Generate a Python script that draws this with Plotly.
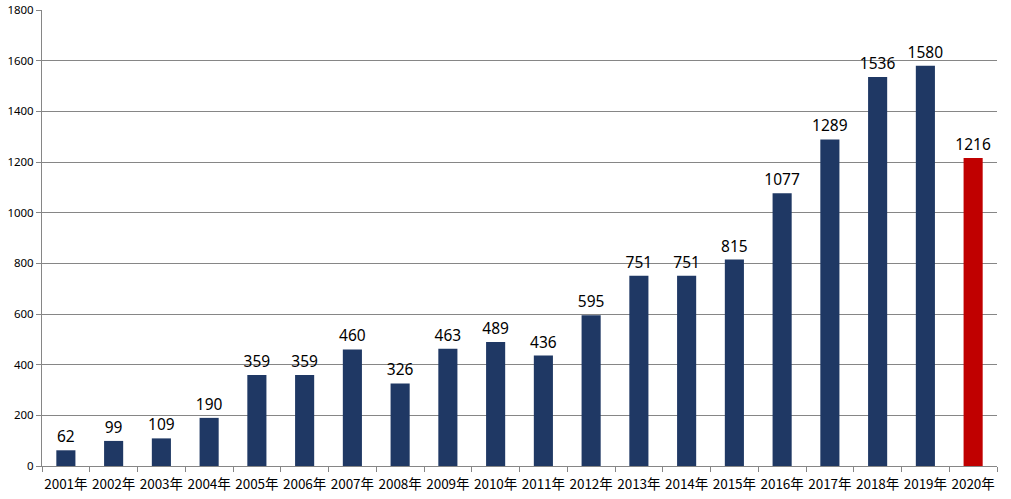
import plotly.graph_objects as go

years = ["2001年", "2002年", "2003年", "2004年", "2005年", "2006年", "2007年", "2008年", "2009年", "2010年",
         "2011年", "2012年", "2013年", "2014年", "2015年", "2016年", "2017年", "2018年", "2019年", "2020年"]
values = [62, 99, 109, 190, 359, 359, 460, 326, 463, 489,
          436, 595, 751, 751, 815, 1077, 1289, 1536, 1580, 1216]
bar_colors = ["#1F3864"] * 19 + ["#C00000"]

fig = go.Figure(go.Bar(
    x=years, y=values, marker_color=bar_colors, marker_line_width=0,
    text=[str(v) for v in values], textposition="outside", cliponaxis=False,
    constraintext="none",
    textfont=dict(size=15.5, color="#000000", family="Noto Sans, sans-serif"),
    outsidetextfont=dict(size=15.5, color="#000000", family="Noto Sans, sans-serif"),
    width=0.4,
))

fig.update_layout(
    width=1011, height=499,
    margin=dict(l=42, r=14, t=10, b=33, autoexpand=False),
    plot_bgcolor="white", paper_bgcolor="white",
    showlegend=False,
    font=dict(family="Noto Sans CJK SC, sans-serif", color="#000000"),
)
fig.update_xaxes(
    type="category", showline=True, linecolor="#868686", linewidth=1,
    ticks="outside", tickson="boundaries", ticklen=5, tickcolor="#868686",
    tickangle=0, automargin=False, ticklabelstandoff=6,
    tickfont=dict(size=13.5, family="Noto Sans CJK SC, sans-serif"), showgrid=False,
)
fig.update_yaxes(
    range=[0, 1800], dtick=200, showline=True, linecolor="#868686", linewidth=1,
    ticks="outside", ticklen=5, tickcolor="#868686", showgrid=True, gridcolor="#868686", gridwidth=1,
    automargin=False,
    tickfont=dict(size=11.5, family="Noto Sans, sans-serif"), zeroline=False,
)

fig.write_html("out.html")
